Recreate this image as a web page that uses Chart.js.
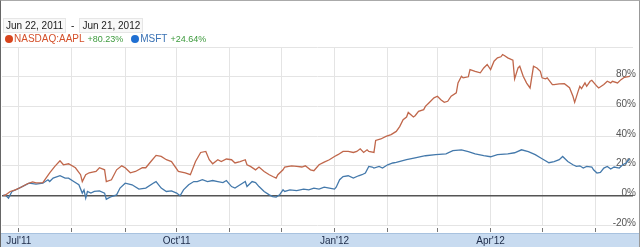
<!DOCTYPE html>
<html>
<head>
<meta charset="utf-8">
<style>
  body{ margin:0; background:#fff; font-family: Arial, "Liberation Sans", sans-serif; }
  #wrap{ position:relative; width:640px; height:247px; overflow:hidden; background:#fff; }
  #chart{ position:absolute; left:0; top:0; }
  #frame{ position:absolute; left:0; top:0; width:638px; height:246px; border-left:1px solid #666; border-top:1px solid #aaa; border-right:1px solid #999; pointer-events:none; }
  #range{ position:absolute; left:3px; top:18px; font-size:10px; color:#222; white-space:nowrap; }
  .box{ display:inline-block; padding:1px 2px; background:#f8f8f8; border:1px solid #e6e6e6; }
  .sep{ display:inline-block; margin:0 5px; }
  #legend{ position:absolute; left:5px; top:33px; font-size:10px; white-space:nowrap; }
  .dot{ display:inline-block; width:8px; height:8px; border-radius:50%; vertical-align:-1px; margin-right:1px; }
  .pct{ color:#3d9a3d; font-size:9px; margin-left:3px; margin-right:5px; }
</style>
<script src="https://cdn.jsdelivr.net/npm/chart.js"></script>
</head>
<body>
<div id="wrap">
  <canvas id="chart" width="640" height="247"></canvas>
  <div id="range"><span class="box">Jun 22, 2011</span><span class="sep">-</span><span class="box">Jun 21, 2012</span></div>
  <div id="legend">
    <span class="dot" style="background:#d8441c"></span><span style="color:#d4502a">NASDAQ:AAPL</span><span class="pct">+80.23%</span>
    <span class="dot" style="background:#1f6fd2"></span><span style="color:#3a72b4">MSFT</span><span class="pct">+24.64%</span>
  </div>
  <div id="frame"></div>
</div>

<script>
// days counted from Jun 22, 2011
var monthStarts = [9, 40, 71, 101, 132, 162, 193, 224, 253, 284, 314, 345];
var monthLabels = ["Jul'11", "", "", "Oct'11", "", "", "Jan'12", "", "", "Apr'12", "", ""];
var yTicks = [-20, 0, 20, 40, 60, 80, 100];

var aaplDays = [0,1,4,7,10,14,17,19,23,27,30,33,35,38,42,45,46,48,50,54,56,59,60,63,66,69,71,74,77,81,83,86,89,92,95,98,102,106,109,112,115,118,120,122,125,127,130,133,135,138,141,142,144,147,149,152,155,157,159,160,163,164,168,171,174,176,179,181,184,187,190,193,195,198,201,204,206,208,210,212,213,216,217,220,223,226,229,231,233,235,236,239,240,242,245,246,248,251,253,255,257,259,261,264,265,267,268,271,272,275,278,280,282,284,286,288,290,291,292,294,297,298,300,301,303,305,307,309,311,313,314,316,317,320,321,324,327,330,332,333,335,336,337,339,340,342,343,346,347,350,352,354,355,358,360,362,365];
var aaplPct = [0,0,2.6,3.7,5.3,7.8,9.1,8.4,8.6,15.2,19.5,23.3,20.6,21.3,18.6,13.9,9.3,13.9,15.2,16.1,18.6,17.2,9.3,10.5,17.2,19.9,18.6,15.2,16.1,18.6,18.6,22.8,26.9,26.2,24.0,22.8,16.1,15.2,13.9,22.8,28.9,29.6,24.0,21.3,24.0,22.8,24.5,24.0,21.8,22.8,24.0,20.6,19.5,17.2,19.1,16.1,13.9,12.7,11.6,13.9,17.2,19.1,19.9,19.5,19.1,19.9,17.2,16.6,20.6,22.4,24.0,26.2,27.4,29.6,29.6,28.9,29.6,31.4,28.9,30.7,29.6,28.9,37.0,38.0,39.7,40.9,43.1,46.3,51.0,52.8,55.9,52.8,53.7,56.6,57.8,60.0,62.3,65.7,66.8,64.5,62.7,63.4,66.8,69.1,75.8,80.3,79.2,79.9,84.8,83.6,82.6,85.9,88.2,84.8,90.4,92.7,93.4,94.9,94.3,92.7,91.1,78.5,85.9,87.0,80.3,75.7,72.4,87.0,85.9,83.6,79.2,78.5,79.2,74.7,74.7,75.1,75.3,72.6,66.8,62.7,70.1,73.5,72.0,75.8,73.5,76.9,77.6,73.5,72.4,74.7,76.9,75.8,76.9,75.8,78.0,79.6,80.23];

var msftDays = [0,1,3,5,8,11,15,19,23,26,27,29,33,36,38,41,44,46,47,48,49,51,53,56,59,60,63,66,68,71,75,79,83,88,89,92,95,98,101,103,105,108,111,113,116,119,122,125,128,130,133,135,138,141,142,145,147,149,152,155,157,159,161,163,164,167,171,175,178,181,184,187,190,193,194,196,198,201,204,207,209,211,213,215,216,219,221,224,227,229,235,240,246,252,258,262,267,271,275,280,284,288,294,298,302,306,310,314,318,321,324,326,329,332,334,336,338,340,343,344,346,348,350,352,354,356,359,361,363,365];
var msftPct = [0,0.3,-1.9,2.6,4.2,5.9,8.2,7.6,8.2,10.5,9.3,11.6,13.2,11.6,11.6,9.3,7.1,1.5,3.7,-1.9,2.6,1.5,2.6,3.0,1.5,-2.6,-0.8,0.3,4.9,8.2,7.1,4.2,4.9,8.6,9.3,4.9,2.6,3.0,1.5,-0.3,3.7,7.1,9.3,9.3,10.5,9.3,10.0,9.3,8.6,10.0,5.9,4.9,7.1,9.3,5.9,9.3,8.6,5.9,2.6,0.3,-0.8,-1.2,0.3,3.7,2.6,3.7,3.2,4.2,3.7,4.9,4.2,5.5,4.9,4.2,5.5,10.5,12.7,13.2,11.6,13.2,13.9,15.0,19.5,19.1,18.4,19.5,18.4,20.6,21.8,22.2,24.0,25.3,26.7,27.4,28.0,30.1,30.7,29.4,28.0,26.7,26.0,27.4,28.0,28.7,30.7,29.4,27.4,24.7,22.0,22.8,24.0,26.2,22.8,20.6,19.5,19.9,18.4,19.5,19.1,17.2,15.0,15.4,18.4,19.5,17.7,19.1,18.4,20.6,21.8,24.64];

function toPoints(days, vals) {
  return days.map(function(d, i) { return {x: d, y: vals[i]}; });
}

// light blue navigation band under the date ticks
var bandPlugin = {
  id: 'band',
  beforeDraw: function(chart) {
    var c = chart.ctx, xs = chart.scales.x;
    var top = xs.top + 8;
    c.save();
    c.fillStyle = '#c8dbf0';
    c.fillRect(0, top, chart.width, chart.height - top);
    c.fillStyle = '#a8c2df';
    c.fillRect(0, top, chart.width, 1);
    c.restore();
  }
};

new Chart(document.getElementById('chart'), {
  type: 'line',
  data: {
    datasets: [{
      label: 'NASDAQ:AAPL',
      data: toPoints(aaplDays, aaplPct),
      borderColor: '#c0674b',
      borderWidth: 1.3,
      pointRadius: 0,
      tension: 0
    }, {
      label: 'MSFT',
      data: toPoints(msftDays, msftPct),
      borderColor: '#4479ab',
      borderWidth: 1.3,
      pointRadius: 0,
      tension: 0
    }]
  },
  options: {
    responsive: false,
    animation: false,
    layout: { padding: { top: 47, left: 2, right: 1, bottom: 0 } },
    plugins: { legend: { display: false }, tooltip: { enabled: false } },
    scales: {
      x: {
        type: 'linear',
        min: -0.8,
        max: 367,
        afterBuildTicks: function(scale) {
          scale.ticks = monthStarts.map(function(v) { return {value: v}; });
        },
        afterFit: function(scale) {
          scale.height = 22;
          scale.paddingLeft = 0;
          scale.paddingRight = 0;
        },
        ticks: {
          autoSkip: false,
          maxRotation: 0,
          padding: 2,
          color: '#1c2a48',
          font: { size: 10, family: 'Arial, "Liberation Sans", sans-serif' },
          callback: function(v, i) { return monthLabels[i]; }
        },
        grid: {
          color: '#e4e4e4',
          tickColor: '#777',
          tickLength: 8,
          tickBorderDash: [4, 3],
          tickBorderDashOffset: 4
        },
        border: { display: false }
      },
      y: {
        position: 'right',
        min: -20,
        max: 100,
        afterBuildTicks: function(scale) {
          scale.ticks = yTicks.map(function(v) { return {value: v}; });
        },
        afterFit: function(scale) {
          scale.paddingTop = 0;
          scale.paddingBottom = 0;
        },
        ticks: {
          mirror: true,
          padding: 3,
          labelOffset: -2,
          color: '#555',
          font: { size: 10, family: 'Arial, "Liberation Sans", sans-serif' },
          callback: function(v) { return v === 100 ? '' : v + '%'; }
        },
        grid: {
          drawTicks: false,
          color: function(ctx) { return ctx.tick && ctx.tick.value === 0 ? '#555' : '#e4e4e4'; },
          lineWidth: function(ctx) { return ctx.tick && ctx.tick.value === 0 ? 1.5 : 1; }
        },
        border: { display: false }
      }
    }
  },
  plugins: [bandPlugin]
});
</script>
</body>
</html>
